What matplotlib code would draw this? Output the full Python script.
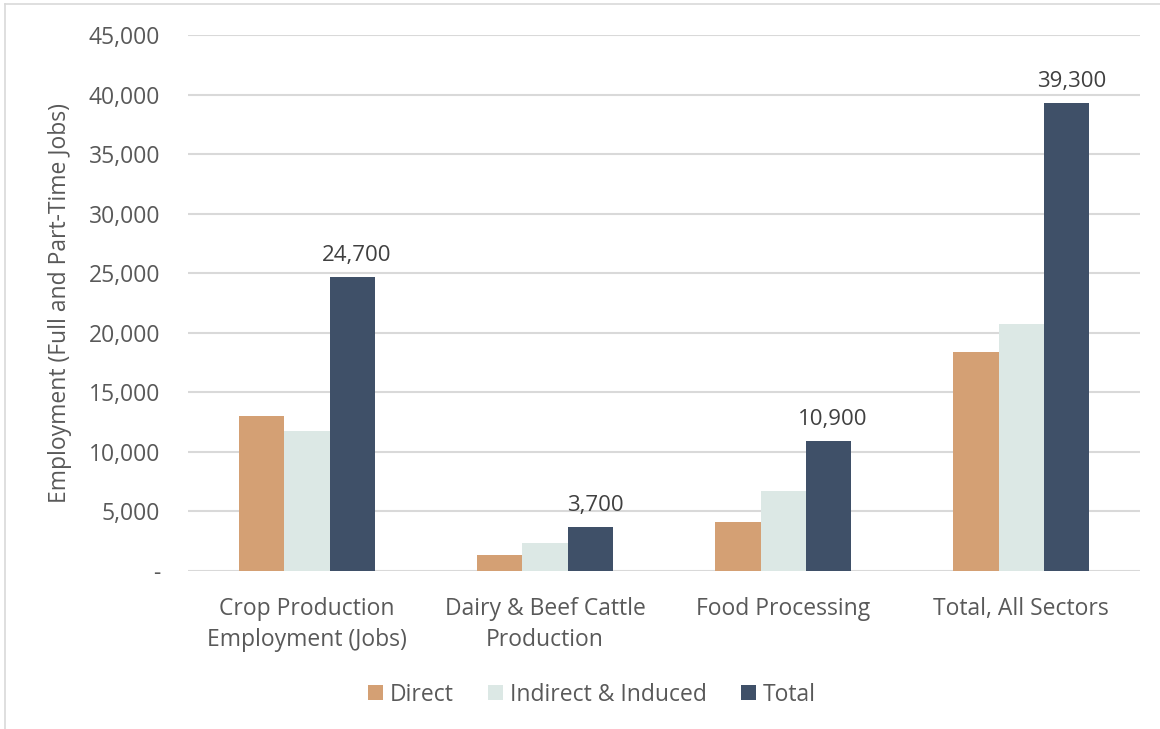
import matplotlib.pyplot as plt
import numpy as np
from matplotlib.ticker import FuncFormatter
from matplotlib.lines import Line2D

plt.rcParams['font.family'] = ['Open Sans', 'DejaVu Sans']

# Employment impacts by sector
categories = ["Crop Production\nEmployment (Jobs)", "Dairy & Beef Cattle\nProduction",
              "Food Processing", "Total, All Sectors"]
direct = [13000, 1300, 4100, 18400]
indirect = [11700, 2300, 6700, 20700]
total = [24700, 3700, 10900, 39300]

series_names = ["Direct", "Indirect & Induced", "Total"]
colors = ["#D4A074", "#DCE8E5", "#3F5068"]

fig = plt.figure(figsize=(11.6, 7.29), dpi=100)
ax = fig.add_axes([0.162, 0.217, 0.821, 0.735])

x = np.arange(len(categories))
w = 0.19
for i, (vals, name, c) in enumerate(zip([direct, indirect, total], series_names, colors)):
    ax.bar(x + (i - 1) * w, vals, w, color=c, label=name, zorder=3)

# labels on the total bars
for xi, v in zip(x, total):
    ax.text(xi + w + 0.02, v + 900, f"{v:,}", ha='center', va='bottom', fontsize=16, color='#404040')

ax.set_ylim(0, 45000)
ax.set_xlim(-0.5, len(categories) - 0.5)
ax.set_yticks(np.arange(0, 45001, 5000))
ax.yaxis.set_major_formatter(FuncFormatter(lambda v, p: '-' if v == 0 else f"{int(v):,}"))
ax.grid(axis='y', color='#D9D9D9', linewidth=1.5, zorder=0)
for s in ax.spines.values():
    s.set_visible(False)
ax.tick_params(axis='both', length=0, labelsize=16.5, colors='#595959')
ax.tick_params(axis='y', pad=20)
ax.tick_params(axis='x', pad=19)
ax.set_xticks(x)
ax.set_xticklabels(categories, linespacing=1.4)
ax.set_ylabel("Employment (Full and Part-Time Jobs)", fontsize=16.5, color='#595959', labelpad=12)

ax.legend(loc='upper center', bbox_to_anchor=(0.424, -0.17), ncol=3, frameon=False,
          fontsize=16.5, labelcolor='#595959', handlelength=0.65, handleheight=0.65,
          handletextpad=0.3, columnspacing=1.5)

# thin frame along top and left edges
fig.add_artist(Line2D([0.004, 0.004], [0, 0.995], transform=fig.transFigure, color='#D9D9D9', lw=1.2))
fig.add_artist(Line2D([0.004, 1], [0.995, 0.995], transform=fig.transFigure, color='#D9D9D9', lw=1.2))

fig.savefig('out.png', dpi=100)
